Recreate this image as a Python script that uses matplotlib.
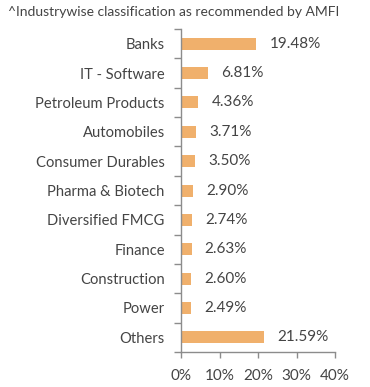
import matplotlib.pyplot as plt
import numpy as np

# Industry allocation (% of net assets)
industries = ["Banks", "IT - Software", "Petroleum Products", "Automobiles",
              "Consumer Durables", "Pharma & Biotech", "Diversified FMCG",
              "Finance", "Construction", "Power", "Others"]
weights = [19.48, 6.81, 4.36, 3.71, 3.50, 2.90, 2.74, 2.63, 2.60, 2.49, 21.59]
xticks = [0, 10, 20, 30, 40]

bar_color = "#F0B06C"
text_color = "#444444"
axis_color = "#8C8C8C"

plt.rcParams['font.family'] = ['Lato', 'DejaVu Sans']

fig = plt.figure(figsize=(3.70, 3.87), dpi=100)
ax = fig.add_axes([0.4905, 0.0904, 0.4149, 0.8346])

y = np.arange(len(industries))
ax.barh(y, weights, height=0.41, color=bar_color)

for yi, w in zip(y, weights):
    ax.annotate(f"{w:.2f}%", (w, yi), xytext=(9.5, 0), textcoords="offset points",
                va="center", ha="left", fontsize=11, color=text_color)

ax.set_xlim(0, 40)
ax.set_ylim(len(industries) - 0.5, -0.5)
ax.set_xticks(xticks)
ax.set_xticklabels([f"{t}%" for t in xticks])
ax.set_yticks(y)
ax.set_yticklabels(industries, fontsize=10.6)
ax.set_yticks(np.arange(-0.5, len(industries)), minor=True)

ax.tick_params(axis="y", which="major", length=0, pad=12, labelcolor=text_color)
ax.tick_params(axis="y", which="minor", length=5, color=axis_color, width=1)
ax.tick_params(axis="x", length=4, color=axis_color, width=1, pad=8,
               labelsize=11, labelcolor=text_color)

for side in ["top", "right"]:
    ax.spines[side].set_visible(False)
for side in ["left", "bottom"]:
    ax.spines[side].set_color(axis_color)
    ax.spines[side].set_linewidth(1)

fig.text(0.022, 0.968, "^Industrywise classification as recommended by AMFI",
         fontsize=10, color=text_color, ha="left", va="center")

fig.savefig("out.png", dpi=100)
